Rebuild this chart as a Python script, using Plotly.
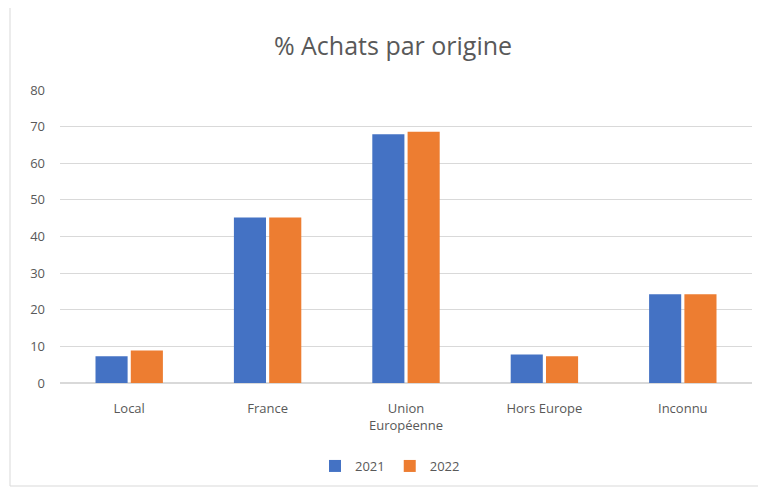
import plotly.graph_objects as go

categories = ["Local", "France", "Union<br>Européenne", "Hors Europe", "Inconnu"]
series_names = ["2021", "2022"]
values_2021 = [7.3, 45.2, 67.9, 7.8, 24.2]
values_2022 = [8.9, 45.2, 68.6, 7.3, 24.2]
y_ticks = [0, 10, 20, 30, 40, 50, 60, 70, 80]

colors = ["#4472C4", "#ED7D31"]
font_family = "'Open Sans', Lato, sans-serif"

fig = go.Figure()
for name, vals, col in zip(series_names, [values_2021, values_2022], colors):
    fig.add_trace(go.Bar(x=categories, y=vals, name=name, marker_color=col,
                         marker_line_width=0))

OFF = 8  # page body margin
W, H = 758, 491
# target positions in screen pixels
L, R, T, B = 60, 752, 90, 383
ml, mt = L - OFF, T - OFF
mr = W - (R - OFF)
mb = H - (B - OFF)
pw = W - ml - mr
ph = H - mt - mb

def px_x(x):
    return (x - OFF - ml) / pw

def px_y(y):
    return (B - y) / ph

fig.update_layout(
    width=W, height=H,
    margin=dict(l=ml, r=mr, t=mt, b=mb),
    paper_bgcolor="white", plot_bgcolor="white",
    font=dict(family=font_family, color="#595959", size=13),
    title=dict(text="% Achats par origine", x=px_x(393), xanchor="center", xref="paper",
               y=1 - (46 - OFF) / H, yanchor="middle",
               font=dict(size=25, color="#595959", family=font_family)),
    barmode="group", bargap=0.49, bargroupgap=0.09,
    showlegend=True,
    legend=dict(orientation="h", x=px_x(390), xanchor="center", y=px_y(466), yanchor="middle",
                font=dict(size=13, color="#595959"), itemwidth=30,
                traceorder="normal"),
    xaxis=dict(showgrid=False, showline=True, linecolor="#d9d9d9", linewidth=1,
               ticks="", ticklabelstandoff=13, tickfont=dict(size=13, color="#595959")),
    yaxis=dict(range=[0, 80], tickvals=y_ticks, showgrid=True, gridcolor="#d9d9d9",
               gridwidth=1, zeroline=True, zerolinecolor="#d9d9d9", showline=False,
               ticks="", ticklabelstandoff=14, tickfont=dict(size=13, color="#595959")),
    shapes=[dict(type="rect", xref="paper", yref="paper",
                 x0=px_x(10), x1=px_x(761), y0=px_y(486), y1=px_y(4),
                 line=dict(color="#d9d9d9", width=1), fillcolor="rgba(0,0,0,0)",
                 layer="below")],
)

fig.write_html("out.html")
